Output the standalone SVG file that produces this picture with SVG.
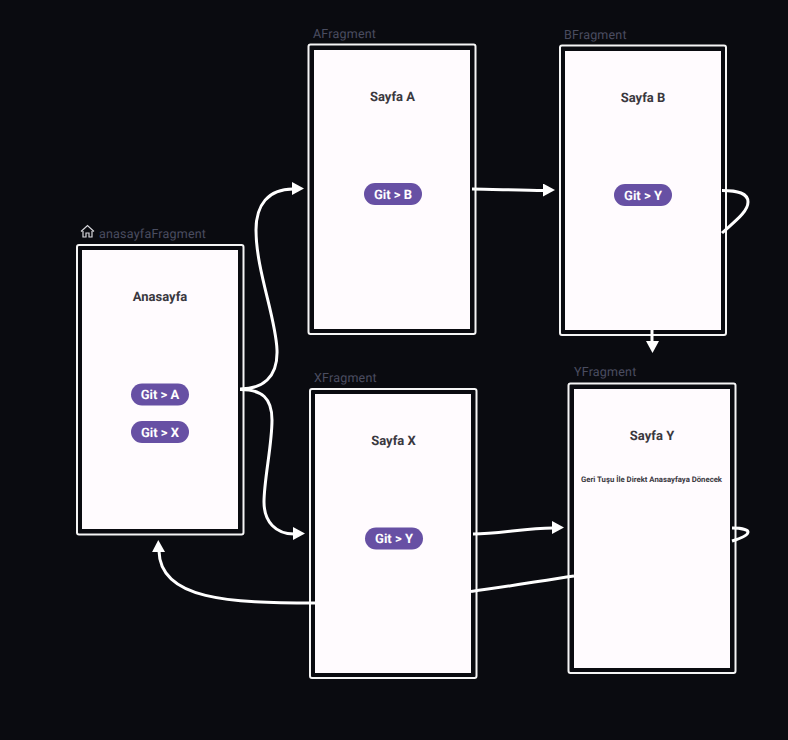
<svg xmlns="http://www.w3.org/2000/svg" width="788" height="740" viewBox="0 0 788 740">
<defs>
<style>
.frame{fill:#0a0b10;stroke:#f6f6f6;stroke-width:2}
.screen{fill:#fffbfe}
.label{font-family:Roboto,"Liberation Sans",sans-serif;font-size:12.5px;fill:#4a4d60;letter-spacing:.2px;text-rendering:geometricPrecision}
.title{font-family:Roboto,"Liberation Sans",sans-serif;font-size:13px;font-weight:700;fill:#3a383e;text-anchor:middle;text-rendering:geometricPrecision}
.pill{fill:#6750a4}
.btn{font-family:Roboto,"Liberation Sans",sans-serif;font-size:13px;font-weight:700;fill:#fff;text-anchor:middle;text-rendering:geometricPrecision}
.note{font-family:Roboto,"Liberation Sans",sans-serif;font-size:7.750px;font-weight:700;fill:#3a383e;text-anchor:middle;text-rendering:geometricPrecision}
.edge{fill:none;stroke:#fff;stroke-width:3}
.head{fill:#fff}
</style>
<marker id="arrow" markerUnits="userSpaceOnUse" markerWidth="13" markerHeight="14" refX="1" refY="7" orient="auto"><path class="head" d="M0 0L12 6.500L0 13z"/></marker>
</defs>
<rect width="788" height="740" fill="#0a0b10"/>
<g id="anasayfaFragment">
<text class="label" x="99" y="238">anasayfaFragment</text>
<path d="M81 231.500L87.500 225.500L94 231.500M83 231V237H86V233H89V237H92V231" fill="none" stroke="#d8d8dc" stroke-width="1.200"/>
<rect class="frame" x="77" y="245" width="166.500" height="289.500" rx="2"/>
<rect class="screen" x="82" y="250" width="156" height="279"/>
<text class="title" x="160" y="301">Anasayfa</text>
<rect class="pill" x="131" y="383.500" width="58" height="22" rx="11"/>
<text class="btn" x="160" y="399">Git &gt; A</text>
<rect class="pill" x="131" y="421" width="58" height="22" rx="11"/>
<text class="btn" x="160" y="436.500">Git &gt; X</text>
</g>
<g id="AFragment">
<text class="label" x="313" y="38">AFragment</text>
<rect class="frame" x="308.500" y="44.500" width="167" height="289.500" rx="2"/>
<rect class="screen" x="314" y="50" width="156" height="279"/>
<text class="title" x="392.500" y="101">Sayfa A</text>
<rect class="pill" x="364" y="183" width="58" height="22" rx="11"/>
<text class="btn" x="393" y="199">Git &gt; B</text>
</g>
<g id="BFragment">
<text class="label" x="564" y="39">BFragment</text>
<rect class="frame" x="560" y="45.500" width="166" height="289.500" rx="2"/>
<rect class="screen" x="565" y="51" width="156" height="279"/>
<text class="title" x="643" y="102">Sayfa B</text>
<rect class="pill" x="614" y="184" width="58" height="22" rx="11"/>
<text class="btn" x="643" y="200">Git &gt; Y</text>
</g>
<g id="XFragment">
<text class="label" x="314" y="382">XFragment</text>
<rect class="frame" x="310" y="389" width="166.500" height="289" rx="2"/>
<rect class="screen" x="315" y="394" width="156" height="279"/>
<text class="title" x="393.500" y="445">Sayfa X</text>
<rect class="pill" x="365" y="527.500" width="58" height="22" rx="11"/>
<text class="btn" x="394" y="543">Git &gt; Y</text>
</g>
<g id="YFragment">
<text class="label" x="574" y="376">YFragment</text>
<rect class="frame" x="568.500" y="383.500" width="167" height="289.500" rx="2"/>
<rect class="screen" x="574" y="389" width="156" height="279"/>
<text class="title" x="652" y="440">Sayfa Y</text>
<text class="note" x="651.500" y="482">Geri Tuşu İle Direkt Anasayfaya Dönecek</text>
</g>
<g id="connectors">
<path class="edge" marker-end="url(#arrow)" d="M240 389C262 389 278 378 277 350C276 318 256 270 256 230C256 205 268 189 293 189"/>
<path class="edge" marker-end="url(#arrow)" d="M240 389.500C262 389.500 272 398 272 420C272 445 264 480 264 502C264 522 276 534 294 534"/>
<path class="edge" marker-end="url(#arrow)" d="M472 189C490 189 520 190.500 544 190.500"/>
<path class="edge" d="M722 190.500C738 190.500 748 193 748 202C748 212 734 222 722 233"/>
<path class="edge" marker-end="url(#arrow)" d="M652 330V342"/>
<path class="edge" marker-end="url(#arrow)" d="M473 534C500 534 525 528 553 528"/>
<path class="edge" d="M732 528C742 528 748 530 748 532C748 535 742 538 732 541"/>
<path class="edge" d="M471 591.500C505 587 540 581 574 576"/>
<path class="edge" marker-end="url(#arrow)" d="M315 603C230 603 160 600 159 551"/>
</g>
</svg>
